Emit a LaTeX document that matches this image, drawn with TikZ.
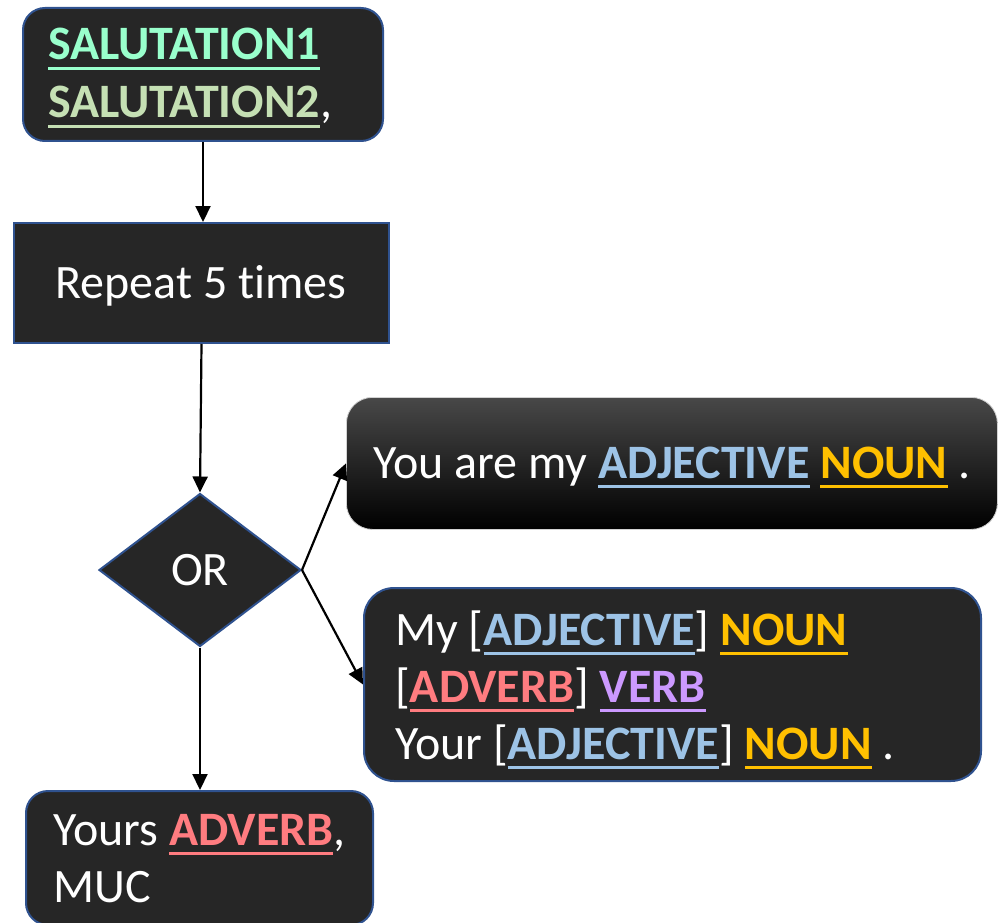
\documentclass[tikz,border=0pt]{standalone}
\usepackage{fontspec}
\setmainfont{Carlito}[Ligatures=NoCommon]
\usetikzlibrary{shapes.geometric,arrows.meta}
\definecolor{boxfill}{RGB}{38,38,38}
\definecolor{boxline}{RGB}{47,82,143}
\definecolor{salA}{RGB}{153,255,204}
\definecolor{salB}{RGB}{197,224,180}
\definecolor{adjc}{RGB}{157,195,230}
\definecolor{nounc}{RGB}{255,192,0}
\definecolor{advc}{RGB}{255,124,128}
\definecolor{verbc}{RGB}{204,153,255}
\definecolor{topgray}{RGB}{72,72,72}
\definecolor{gline}{RGB}{210,210,210}
\newcommand\kw[2]{{\color{#1}\bfseries\setbox0\hbox{#2}\rlap{\rule[-10pt]{\wd0}{3pt}}\box0}}
\tikzset{
  x=1pt,y=-1pt,
  rbox/.style={draw=boxline, line width=2pt, fill=boxfill, rounded corners=22pt, anchor=north west, inner sep=0pt},
  sbox/.style={draw=boxline, line width=2pt, fill=boxfill, anchor=north west, inner sep=0pt},
  gbox/.style={draw=gline, line width=0.8pt, top color=topgray, middle color=black, bottom color=black, rounded corners=26pt, anchor=north west, inner sep=0pt},
  dbox/.style={shape=diamond, draw=boxline, line width=2pt, fill=boxfill, inner sep=0pt, aspect=1.32, text=white, font=\fontsize{48}{57}\selectfont},
  txt/.style={text=white, inner sep=0pt, anchor=base west, font=\fontsize{48}{57}\selectfont},
  arr/.style={line width=2.2pt, draw=black, -{Triangle[length=16pt,width=15pt]}}
}
\begin{document}
\begin{tikzpicture}
\useasboundingbox (0,0) rectangle (1001,923);
% boxes
\node[rbox, minimum width=360pt, minimum height=133pt] (sal) at (22,7) {};
\node[sbox, minimum width=375pt, minimum height=120pt] (rep) at (13,222) {};
\node[dbox, minimum width=202pt, minimum height=153pt] (or) at (200,570) {OR};
\node[gbox, minimum width=651pt, minimum height=132pt] (you) at (346,397) {};
\node[rbox, rounded corners=30pt, minimum width=617pt, minimum height=193pt] (my) at (363,587) {};
\node[rbox, minimum width=347pt, minimum height=134pt] (end) at (25,790) {};
% texts
\node[txt] (salt) at (48,60) {\vtop{\baselineskip=58pt\hbox{\kw{salA}{SALUTATION1}}\hbox{\kw{salB}{SALUTATION2},}}};
\node[txt, anchor=base] (rept) at (201,298) {Repeat 5 times};
\node[txt] (yout) at (373,478) {You are my \kw{adjc}{ADJECTIVE} \kw{nounc}{NOUN} .};
\node[txt] (myt) at (395,645) {\vtop{\baselineskip=57pt
  \hbox{My [\kw{adjc}{ADJECTIVE}] \kw{nounc}{NOUN}}
  \hbox{[\kw{advc}{ADVERB}] \kw{verbc}{VERB}}
  \hbox{Your [\kw{adjc}{ADJECTIVE}] \kw{nounc}{NOUN} .}}};
\node[txt] (endt) at (53,845) {\vtop{\baselineskip=57pt\hbox{Yours \kw{advc}{ADVERB},}\hbox{MUC}}};
% connectors
\draw[arr] (sal.south) -- (sal.south |- rep.north);
\draw[arr] (rep.south) -- (or.north);
\draw[arr] (or.south) -- (or.south |- end.north);
\draw[arr] (or.east) -- (you.west);
\draw[arr] (or.east) -- (my.west);
\end{tikzpicture}
\end{document}
